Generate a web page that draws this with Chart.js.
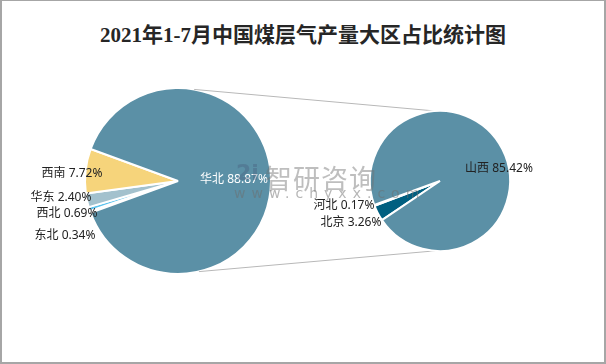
<!DOCTYPE html>
<html>
<head>
<meta charset="utf-8">
<script src="https://cdn.jsdelivr.net/npm/chart.js@4.4.0/dist/chart.umd.min.js"></script>
<style>
  body { margin: 0; background: #fff; }
  .wrap { position: relative; width: 606px; height: 364px; box-sizing: border-box; border: 2px solid #a6a6a6; border-top-width: 1px; overflow: hidden; }
  .wrap canvas { position: absolute; left: -2px; top: -1px; }
  .title { position: absolute; left: 0; width: 602px; top: 17px; text-align: center; font: bold 21px "Liberation Serif", "Noto Sans CJK SC", serif; color: #262626; }
  .wm1 { position: absolute; left: 263px; top: 157px; font: 27px "Noto Sans CJK SC", sans-serif; color: rgba(110,110,110,0.45); letter-spacing: 1px; }
  .wm2 { position: absolute; left: 232px; top: 184px; font: 14px "DejaVu Sans", sans-serif; color: rgba(110,110,110,0.5); letter-spacing: 6px; }
  .logo { position: absolute; left: 234px; top: 162px; width: 24px; height: 20px; font: bold 22px "DejaVu Sans", sans-serif; line-height: 20px; color: rgba(70,90,120,0.35); }
</style>
</head>
<body>
<div class="wrap">
  <div class="title">2021年1-7月中国煤层气产量大区占比统计图</div>
  <canvas id="left" width="606" height="364"></canvas>
  <canvas id="right" width="606" height="364"></canvas>
  <div class="logo">2i</div>
  <div class="wm1">智研咨询</div>
  <div class="wm2">www.chyxx.com</div>
</div>
<script>
// main pie: regions (share of national output, %)
const regions = ['东北', '西北', '华东', '西南', '华北'];
const regionValues = [0.34, 0.69, 2.40, 7.72, 88.87];
const regionColors = ['#e8f1f5', '#5cc3ee', '#a3c1cd', '#f6d47b', '#5b90a6'];

// second pie: breakdown of 华北
const provinces = ['北京', '河北', '山西'];
const provinceValues = [3.26, 0.17, 85.42];
const provinceColors = ['#005f80', '#ffffff', '#5b90a6'];

// label offsets from pie centre (px) and colours
const regionLabelPos = [[-113, 55], [-111, 33], [-117, 17], [-106, -7], [56, -1]];
const regionLabelColor = ['#222', '#222', '#222', '#222', '#fff'];
const provinceLabelPos = [[-89, 42], [-96, 25], [59, -12]];
const provinceLabelColor = ['#222', '#222', '#222'];

const labelPlugin = {
    id: 'pieLabels',
    afterDatasetsDraw(chart, args, opts) {
        const ctx = chart.ctx;
        const meta = chart.getDatasetMeta(0);
        const labels = chart.data.labels;
        const vals = chart.data.datasets[0].data;
        ctx.save();
        ctx.font = '12px "Noto Sans", "Noto Sans CJK SC", sans-serif';
        ctx.textAlign = 'center';
        ctx.textBaseline = 'middle';
        meta.data.forEach(function(arc, i) {
            ctx.fillStyle = opts.colors[i];
            ctx.fillText(labels[i] + ' ' + vals[i].toFixed(2) + '%', arc.x + opts.pos[i][0], arc.y + opts.pos[i][1]);
        });
        ctx.restore();
    }
};

const leftChart = new Chart(document.getElementById('left').getContext('2d'), {
    type: 'pie',
    data: {
        labels: regions,
        datasets: [{
            data: regionValues,
            backgroundColor: regionColors,
            borderColor: '#fff',
            borderWidth: 2
        }]
    },
    options: {
        responsive: false,
        animation: false,
        rotation: 250,
        layout: { padding: { left: 84, right: 334, top: 87, bottom: 89 } },
        plugins: {
            legend: { display: false },
            tooltip: { enabled: false },
            pieLabels: { pos: regionLabelPos, colors: regionLabelColor }
        }
    },
    plugins: [labelPlugin]
});

// connector lines between the two pies
const connectorPlugin = {
    id: 'connectors',
    beforeDatasetsDraw(chart) {
        const a = leftChart.getDatasetMeta(0).data[0];
        const b = chart.getDatasetMeta(0).data[0];
        const pt = function(arc, deg) {
            const r = deg * Math.PI / 180;
            return [arc.x + arc.outerRadius * Math.cos(r), arc.y + arc.outerRadius * Math.sin(r)];
        };
        const ctx = chart.ctx;
        ctx.save();
        ctx.strokeStyle = '#b8b8b8';
        ctx.lineWidth = 1;
        [[-80, -93], [77, 94]].forEach(function(p) {
            const s = pt(a, p[0]), e = pt(b, p[1]);
            ctx.beginPath();
            ctx.moveTo(s[0], s[1]);
            ctx.lineTo(e[0], e[1]);
            ctx.stroke();
        });
        ctx.restore();
    }
};

const rightChart = new Chart(document.getElementById('right').getContext('2d'), {
    type: 'pie',
    data: {
        labels: provinces,
        datasets: [{
            data: provinceValues,
            backgroundColor: provinceColors,
            borderColor: '#fff',
            borderWidth: 2
        }]
    },
    options: {
        responsive: false,
        animation: false,
        rotation: 236,
        layout: { padding: { left: 369, right: 95, top: 110, bottom: 112 } },
        plugins: {
            legend: { display: false },
            tooltip: { enabled: false },
            pieLabels: { pos: provinceLabelPos, colors: provinceLabelColor }
        }
    },
    plugins: [connectorPlugin, labelPlugin]
});
</script>
</body>
</html>
